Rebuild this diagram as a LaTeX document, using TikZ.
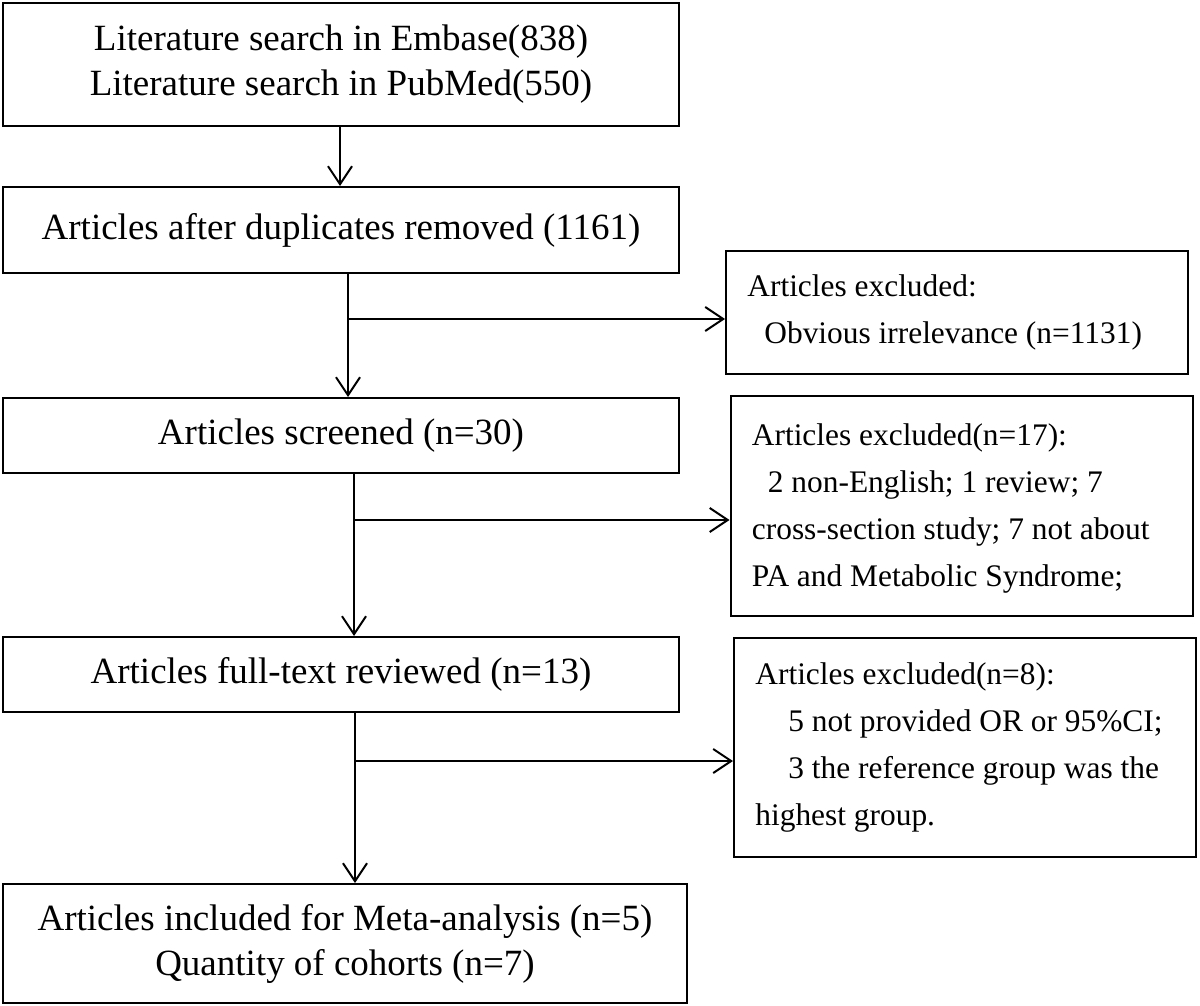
\documentclass[tikz,border=0pt]{standalone}
\usepackage{fontspec}
\setmainfont{Liberation Serif}
\usetikzlibrary{arrows.meta}
\begin{document}
\begin{tikzpicture}[x=0.5pt,y=-0.5pt,
  mainbox/.style={draw, line width=1pt, inner sep=0pt, align=center,
    font=\fontsize{18.5}{22.5}\selectfont},
  sidebox/.style={draw, line width=1pt, inner sep=0pt, minimum width=231pt},
  sidetext/.style={anchor=west, inner sep=0pt, align=left,
    font=\fontsize{15.7}{23.5}\selectfont},
  link/.style={line width=1pt, -{Straight Barb[length=9pt,width=12pt]}}]
\fill[white] (0,0) rectangle (1200,1006);
\useasboundingbox (0,0) rectangle (1200,1006);

\node[mainbox, minimum width=338pt, minimum height=61.5pt] (b1) at (341,64.5)
  {Literature search in Embase(838)\\Literature search in PubMed(550)};
\node[mainbox, minimum width=338pt, minimum height=43pt] (b2) at (341,230)
  {Articles after duplicates removed (1161)};
\node[mainbox, minimum width=338pt, minimum height=37.5pt] (b3) at (341,435.5)
  {Articles screened (n=30)};
\node[mainbox, minimum width=338pt, minimum height=37.5pt] (b4) at (341,674.5)
  {Articles full-text reviewed (n=13)};
\node[mainbox, minimum width=342pt, minimum height=59.5pt] (b5) at (345,943.5)
  {Articles included for Meta-analysis (n=5)\\Quantity of cohorts (n=7)};

\node[sidebox, minimum height=61.5pt] (r1) at (957,312.5) {};
\node[sidetext] (t1) at ([xshift=11pt]r1.west)
  {Articles excluded:\\\hspace*{8.5pt}Obvious irrelevance (n=1131)};
\node[sidebox, minimum height=110pt] (r2) at (961.5,506) {};
\node[sidetext] (t2) at ([xshift=11pt,yshift=-1pt]r2.west)
  {Articles excluded(n=17):\\\hspace*{8pt}2 non-English; 1 review; 7\\cross-section study; 7 not about\\PA and Metabolic Syndrome;};
\node[sidebox, minimum height=109.5pt] (r3) at (965,747.5) {};
\node[sidetext] (t3) at ([xshift=11pt]r3.west)
  {Articles excluded(n=8):\\\hspace*{16.5pt}5 not provided OR or 95\%CI;\\\hspace*{16.5pt}3 the reference group was the\\highest group.};

\coordinate (a1) at (340,0);
\draw[link] (b1.south -| a1) -- (b2.north -| a1);

\coordinate (j2) at (348,319);
\draw[link] (b2.south -| j2) -- (b3.north -| j2);
\draw[link] (j2) -- (j2 -| r1.west);

\coordinate (j3) at (354,520);
\draw[link] (b3.south -| j3) -- (b4.north -| j3);
\draw[link] (j3) -- (j3 -| r2.west);

\coordinate (j4) at (355,761);
\draw[link] (b4.south -| j4) -- (b5.north -| j4);
\draw[link] (j4) -- (j4 -| r3.west);
\end{tikzpicture}
\end{document}
